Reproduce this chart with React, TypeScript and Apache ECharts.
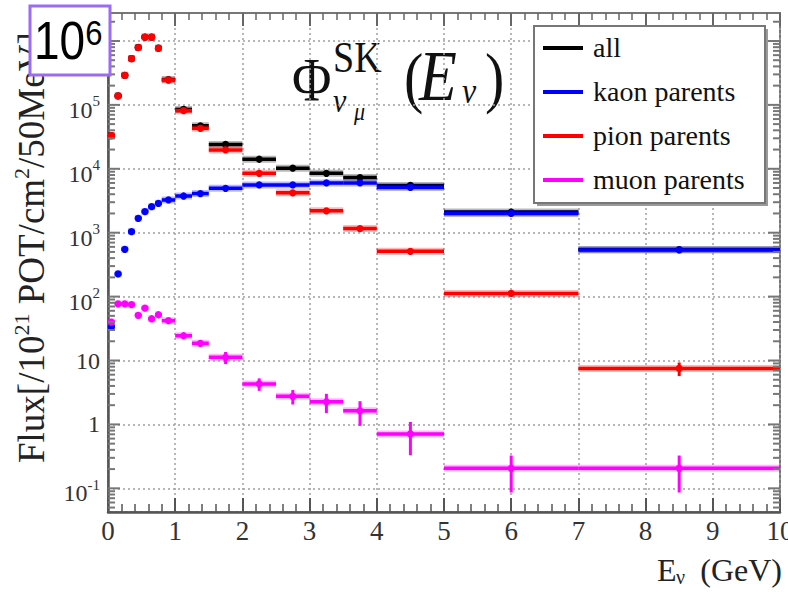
import React, { useEffect, useRef } from 'react';
import * as echarts from 'echarts';

// ---- Data ----
const binLow = [0, 0.1, 0.2, 0.3, 0.4, 0.5, 0.6, 0.7, 0.8, 1.0, 1.25, 1.5, 2.0, 2.5, 3.0, 3.5, 4, 5, 7];
const binHigh = [0.1, 0.2, 0.3, 0.4, 0.5, 0.6, 0.7, 0.8, 1.0, 1.25, 1.5, 2.0, 2.5, 3.0, 3.5, 4.0, 5, 7, 10];

const allFlux = [33100, 138300, 290600, 531100, 791700, 1152000, 1153000, 773000, 248300, 84800, 47100, 24000, 14100, 10200, 8500, 7300, 5500, 2100, 545];
const allErr = [1000, 4000, 8000, 15000, 20000, 30000, 30000, 20000, 8000, 4000, 3000, 2000, 1200, 800, 700, 600, 300, 100, 25];

const kaonFlux = [33.8, 226, 550, 1040, 1680, 2140, 2550, 2880, 3250, 3750, 4100, 4950, 5600, 5600, 6000, 6000, 5100, 2000, 537];
const kaonErr = [3, 10, 20, 30, 50, 60, 70, 80, 90, 120, 150, 200, 250, 250, 300, 300, 200, 100, 25];

const pionFlux = [33000, 138000, 290000, 530000, 790000, 1150000, 1150000, 770000, 245000, 81000, 43000, 19700, 8500, 4200, 2200, 1160, 512, 112, 7.5];
const pionErr = [1000, 4000, 8000, 15000, 20000, 30000, 30000, 20000, 8000, 3000, 2500, 1500, 800, 350, 200, 100, 40, 10, 1.8];

const muonFlux = [40, 77, 77, 75, 51, 66, 45, 52, 42, 24.4, 18.6, 11.2, 4.3, 2.75, 2.26, 1.63, 0.71, 0.206, 0.206];
const muonErr = [2, 3, 3, 3, 3, 3, 3, 3, 2, 2.5, 2, 2.4, 0.95, 0.7, 0.75, 0.68, 0.38, 0.12, 0.12];

const seriesNames = ['all', 'kaon parents', 'pion parents', 'muon parents'];
const seriesColors = ['#000000', '#0000ff', '#ff0000', '#ff00ff'];

const xTicks = [0, 1, 2, 3, 4, 5, 6, 7, 8, 9, 10];
const yTickExps = [-1, 0, 1, 2, 3, 4, 5, 6];
const yMinorMult = [2, 3, 4, 5, 6, 7, 8, 9];

const YMIN = 0.0426;
const YMAX = 2.74e6;
const XMIN = xTicks[0];
const XMAX = xTicks[xTicks.length - 1];

const SERIF = 'Liberation Serif';
const SANS = 'Liberation Sans';

function binSeries(name: string, color: string, values: number[], errs: number[]) {
  const data = values.map((v, i) => [binLow[i], binHigh[i], v, errs[i]]);
  return {
    type: 'custom',
    name,
    data,
    clip: false,
    itemStyle: { color },
    encode: { x: [0, 1], y: 2 },
    renderItem: (params: any, api: any) => {
      const lo = api.value(0);
      const hi = api.value(1);
      const v = api.value(2);
      const e = api.value(3);
      const mid = (lo + hi) / 2;
      const a = api.coord([lo, v]);
      const b = api.coord([hi, v]);
      const t = api.coord([mid, v + e]);
      const d = api.coord([mid, Math.max(v - e, YMIN)]);
      const cx = (a[0] + b[0]) / 2;
      return {
        type: 'group',
        children: [
          { type: 'line', shape: { x1: a[0], y1: a[1], x2: b[0], y2: b[1] }, style: { stroke: color, lineWidth: 7, opacity: 0.28 } },
          { type: 'line', shape: { x1: cx, y1: t[1], x2: cx, y2: d[1] }, style: { stroke: color, lineWidth: 3 } },
          { type: 'line', shape: { x1: a[0], y1: a[1], x2: b[0], y2: b[1] }, style: { stroke: color, lineWidth: 3.5 } },
          { type: 'circle', shape: { cx, cy: a[1], r: 3.6 }, style: { fill: color } },
        ],
      };
    },
  };
}

function buildOption() {
  const tickData: number[][] = [];
  yTickExps.forEach((e) => tickData.push([XMIN, Math.pow(10, e), 12]));
  for (let dec = -2; dec <= 6; dec++) {
    yMinorMult.forEach((m) => {
      const v = m * Math.pow(10, dec);
      if (v > YMIN && v < YMAX) tickData.push([XMIN, v, 7]);
    });
  }

  const tickSeries = {
    type: 'custom',
    name: 'yticks',
    data: tickData,
    clip: false,
    silent: true,
    encode: { x: 0, y: 1 },
    z: 3,
    renderItem: (params: any, api: any) => {
      const v = api.value(1);
      const len = api.value(2);
      const l = api.coord([XMIN, v]);
      const r = api.coord([XMAX, v]);
      return {
        type: 'group',
        children: [
          { type: 'line', shape: { x1: l[0], y1: l[1], x2: l[0] + len, y2: l[1] }, style: { stroke: '#777', lineWidth: 2 } },
          { type: 'line', shape: { x1: r[0], y1: r[1], x2: r[0] - len, y2: r[1] }, style: { stroke: '#777', lineWidth: 2 } },
        ],
      };
    },
  };

  // x tick labels, placed through the x scale
  const xLabelSeries = {
    type: 'custom',
    name: 'xlabels',
    data: xTicks.map((v) => [v, YMIN]),
    clip: false,
    silent: true,
    encode: { x: 0, y: 1 },
    z: 4,
    renderItem: (params: any, api: any) => {
      const v = api.value(0);
      const p = api.coord([v, YMIN]);
      return {
        type: 'text',
        style: { text: String(v), x: p[0], y: p[1] + 5, font: `27px ${SERIF}`, fill: '#333', align: 'center', verticalAlign: 'top' },
      };
    },
  };

  // y tick labels, placed through the log scale
  const yLabelSeries = {
    type: 'custom',
    name: 'ylabels',
    data: yTickExps.map((e) => [XMIN, Math.pow(10, e), e]),
    clip: false,
    silent: true,
    encode: { x: 0, y: 1 },
    z: 4,
    renderItem: (params: any, api: any) => {
      const e = api.value(2);
      const p = api.coord([XMIN, api.value(1)]);
      const text = e === 0 ? '{p|1}' : e === 1 ? '{p|10}' : `{b|10}{s|${e}}`;
      return {
        type: 'text',
        style: {
          text,
          x: p[0] - 8,
          y: p[1],
          align: 'right',
          verticalAlign: 'middle',
          rich: {
            p: { fontFamily: SERIF, fontSize: 24, fill: '#333' },
            b: { fontFamily: SERIF, fontSize: 24, fill: '#333', padding: [10, 0, 0, 0] },
            s: { fontFamily: SERIF, fontSize: 15, fill: '#333', verticalAlign: 'top', padding: [6, 0, 0, 0] },
          },
        },
      };
    },
  };

  const gridLine = { show: true, lineStyle: { color: '#a0a0a0', width: 1.5, type: [2, 3] } };

  const phiBase = 100;
  const fx = (f: number) => -0.34 * f;

  // legend drawn with graphic elements (box, samples, serif names)
  const legX = 534;
  const legY = 26;
  const legW = 231;
  const legH = 177;
  const legRowY = [48, 92, 136, 180];
  const legendEls: any[] = [
    { type: 'rect', z: 20, shape: { x: legX + 3, y: legY + 3, width: legW, height: legH }, style: { fill: '#9a9a9a' } },
    { type: 'rect', z: 21, shape: { x: legX, y: legY, width: legW, height: legH }, style: { fill: '#fff', stroke: '#777', lineWidth: 2 } },
  ];
  seriesNames.forEach((n, i) => {
    legendEls.push({ type: 'line', z: 22, shape: { x1: 543, y1: legRowY[i], x2: 583, y2: legRowY[i] }, style: { stroke: seriesColors[i], lineWidth: 4 } });
    legendEls.push({ type: 'text', z: 22, style: { text: n, x: 593, y: legRowY[i] - 1, font: `28px ${SERIF}`, fill: '#111', align: 'left', verticalAlign: 'middle' } });
  });

  return {
    animation: false,
    backgroundColor: '#fff',
    textStyle: { fontFamily: SERIF },
    grid: {
      left: 108, right: 8, top: 13, bottom: 80,
      containLabel: false,
      outerBoundsMode: 'none',
      show: true, borderColor: '#777', borderWidth: 2, backgroundColor: 'transparent',
    },
    xAxis: [
      {
        type: 'value',
        min: XMIN,
        max: XMAX,
        interval: 1,
        position: 'bottom',
        axisLine: { show: true, onZero: false, lineStyle: { color: '#555', width: 2.5 } },
        axisTick: { show: true, inside: true, length: 14, lineStyle: { color: '#555', width: 2 } },
        minorTick: { show: true, splitNumber: 5, length: 8, lineStyle: { color: '#555', width: 1.5 } },
        axisLabel: { show: false },
        splitLine: gridLine,
      },
      {
        type: 'value',
        min: XMIN,
        max: XMAX,
        interval: 1,
        position: 'top',
        axisLine: { show: true, onZero: false, lineStyle: { color: '#777', width: 2 } },
        axisTick: { show: true, inside: true, length: 13, lineStyle: { color: '#666', width: 2 } },
        minorTick: { show: true, splitNumber: 5, length: 7, lineStyle: { color: '#666', width: 1.5 } },
        axisLabel: { show: false },
        splitLine: { show: false },
      },
    ],
    yAxis: {
      type: 'log',
      logBase: 10,
      min: YMIN,
      max: YMAX,
      splitNumber: 10,
      axisLine: { show: true, lineStyle: { color: '#555', width: 2.5 } },
      axisTick: { show: false },
      axisLabel: { show: false },
      splitLine: gridLine,
    },
    graphic: [
      // y-axis title
      {
        type: 'text',
        x: 31,
        y: 463,
        rotation: Math.PI / 2,
        z: 5,
        style: {
          text: '{t|Flux[/10}{u|21}{t| POT/cm}{u|2}{t|/50MeV]}',
          align: 'left',
          verticalAlign: 'middle',
          rich: {
            t: { fontFamily: SERIF, fontSize: 37, lineHeight: 42, fill: '#222' },
            u: { fontFamily: SERIF, fontSize: 22, lineHeight: 24, verticalAlign: 'top', fill: '#222' },
          },
        },
      },
      // x-axis title
      { type: 'text', z: 5, style: { text: 'E', x: 657, y: 581 + fx(32), font: `32px ${SERIF}`, fill: '#222', align: 'left', verticalAlign: 'middle' } },
      { type: 'text', z: 5, style: { text: 'ν', x: 676, y: 584 + fx(20), font: `20px ${SERIF}`, fill: '#222', align: 'left', verticalAlign: 'middle' } },
      { type: 'text', z: 5, style: { text: '(GeV)', x: 782, y: 581 + fx(32), font: `32px ${SERIF}`, fill: '#222', align: 'right', verticalAlign: 'middle' } },
      // formula Φ^SK_{νμ}(E_ν)
      {
        type: 'group',
        x: 0,
        y: phiBase,
        scaleY: 1.15,
        z: 5,
        children: [
          { type: 'text', style: { text: 'Φ', x: 292, y: fx(54), font: `54px ${SERIF}`, fill: '#111', align: 'left', verticalAlign: 'middle' } },
          { type: 'text', style: { text: 'SK', x: 333, y: -24.3 + fx(38), font: `38px ${SERIF}`, fill: '#111', align: 'left', verticalAlign: 'middle' } },
          { type: 'text', style: { text: 'ν', x: 333, y: 10.4 + fx(30), font: `italic 30px ${SERIF}`, fill: '#111', align: 'left', verticalAlign: 'middle' } },
          { type: 'text', style: { text: 'μ', x: 354, y: 17.4 + fx(22), font: `italic 22px ${SERIF}`, fill: '#111', align: 'left', verticalAlign: 'middle' } },
          { type: 'text', style: { text: '(', x: 404, y: fx(58), font: `58px ${SERIF}`, fill: '#111', align: 'left', verticalAlign: 'middle' } },
          { type: 'text', style: { text: 'E', x: 419, y: fx(62), font: `italic 62px ${SERIF}`, fill: '#111', align: 'left', verticalAlign: 'middle' } },
          { type: 'text', style: { text: 'ν', x: 462, y: 2 + fx(32), font: `italic 32px ${SERIF}`, fill: '#111', align: 'left', verticalAlign: 'middle' } },
          { type: 'text', style: { text: ')', x: 485, y: fx(58), font: `58px ${SERIF}`, fill: '#111', align: 'left', verticalAlign: 'middle' } },
        ],
      },
      ...legendEls,
      // purple 10^6 box
      { type: 'rect', z: 30, shape: { x: 30, y: 6, width: 80, height: 69 }, style: { fill: '#fff', stroke: '#9b6cf2', lineWidth: 3 } },
      {
        type: 'text', z: 31, x: 34, y: 41, scaleY: 1.15,
        style: {
          text: '{a|10}{b|6}', x: 0, y: 0, align: 'left', verticalAlign: 'middle',
          rich: {
            a: { fontFamily: SANS, fontSize: 46, lineHeight: 46, fill: '#000' },
            b: { fontFamily: SANS, fontSize: 31, lineHeight: 31, verticalAlign: 'top', fill: '#000' },
          },
        },
      },
    ],
    series: [
      tickSeries,
      xLabelSeries,
      yLabelSeries,
      binSeries(seriesNames[0], seriesColors[0], allFlux, allErr),
      binSeries(seriesNames[1], seriesColors[1], kaonFlux, kaonErr),
      binSeries(seriesNames[2], seriesColors[2], pionFlux, pionErr),
      binSeries(seriesNames[3], seriesColors[3], muonFlux, muonErr),
    ],
  };
}

export default function App() {
  const ref = useRef<HTMLDivElement>(null);
  useEffect(() => {
    if (!ref.current) return;
    const chart = echarts.init(ref.current, null, { renderer: 'svg' });
    chart.setOption(buildOption() as any);
    return () => chart.dispose();
  }, []);
  return (
    <div
      ref={ref}
      style={{ position: 'fixed', left: 0, top: 0, width: 788, height: 592, background: '#fff' }}
    />
  );
}
